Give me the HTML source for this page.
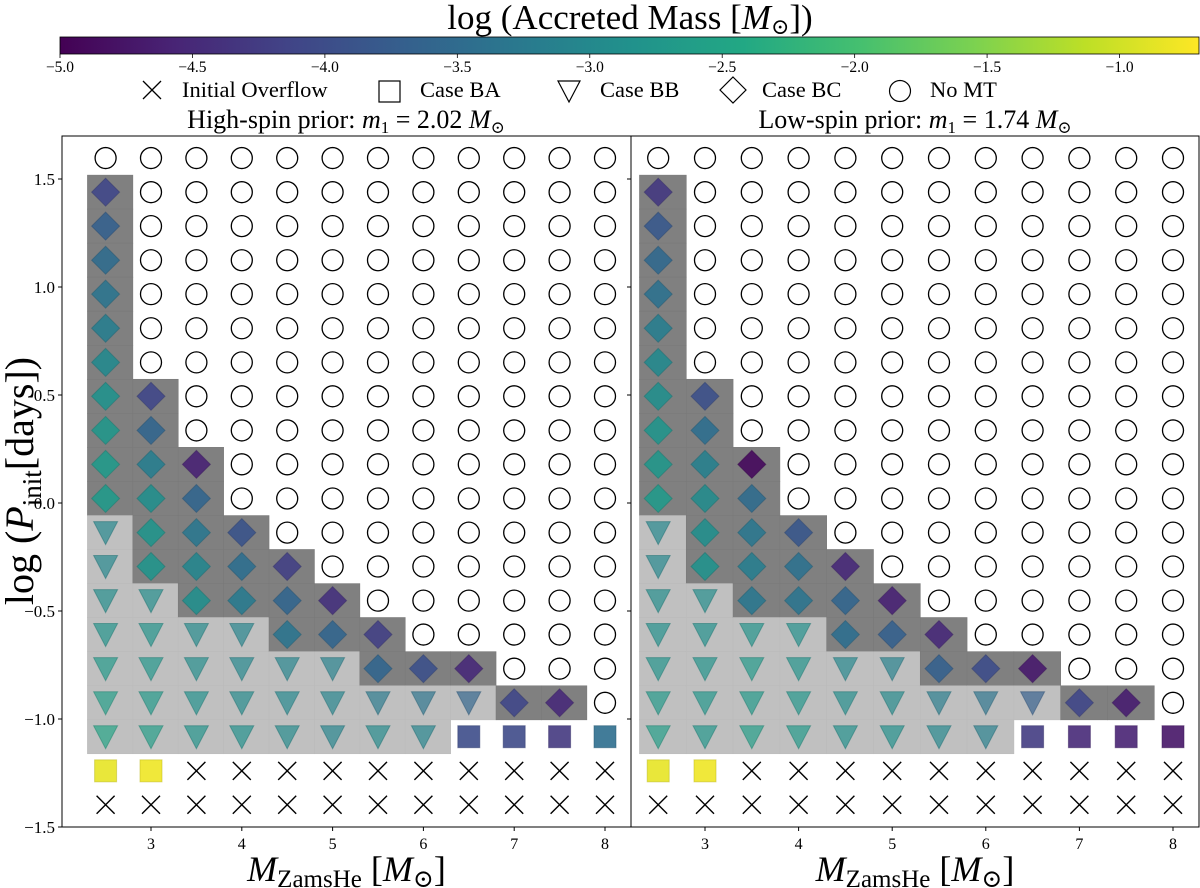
<!DOCTYPE html>
<html><head><meta charset="utf-8"><style>
body{margin:0;background:#fff}
svg{display:block;font-family:"Liberation Serif","DejaVu Serif",serif}
</style></head><body>
<svg id="chart" width="1200" height="888" viewBox="0 0 1200 888" xmlns="http://www.w3.org/2000/svg">
<defs>
<linearGradient id="vir" x1="0" x2="1" y1="0" y2="0">
<stop offset="0" stop-color="#440154"/><stop offset="0.1" stop-color="#482475"/><stop offset="0.2" stop-color="#414487"/><stop offset="0.3" stop-color="#355f8d"/><stop offset="0.4" stop-color="#2a788e"/><stop offset="0.5" stop-color="#21918c"/><stop offset="0.6" stop-color="#22a884"/><stop offset="0.7" stop-color="#44bf70"/><stop offset="0.8" stop-color="#7ad151"/><stop offset="0.9" stop-color="#bddf26"/><stop offset="1" stop-color="#fde725"/>
</linearGradient>
</defs>
<text x="630" y="29" font-size="35" text-anchor="middle">log (Accreted Mass [<tspan font-style="italic">M</tspan><tspan font-size="22" dy="5">⊙</tspan><tspan dy="-5">])</tspan></text>
<rect x="60" y="37" width="1139" height="17" fill="url(#vir)" stroke="#000" stroke-width="0.8"/>
<g id="cbticks"></g>
<g font-size="22.5">
<g><path d="M143 81 L161 99 M161 81 L143 99" stroke="#000" stroke-width="1.3"/><text x="182" y="97">Initial Overflow</text></g>
<g><rect x="379" y="81" width="21" height="21" fill="none" stroke="#000" stroke-width="1.2"/><text x="420" y="97">Case BA</text></g>
<g><path d="M558 81 L580 81 L569 102 Z" fill="none" stroke="#000" stroke-width="1.2"/><text x="600" y="97">Case BB</text></g>
<g><path d="M733 77 L746 90 L733 103 L720 90 Z" fill="none" stroke="#000" stroke-width="1.2"/><text x="762" y="97">Case BC</text></g>
<g><circle cx="900" cy="91" r="10.5" fill="none" stroke="#000" stroke-width="1.2"/><text x="930" y="97">No MT</text></g>
</g>
<text x="346" y="128" font-size="26" text-anchor="middle">High-spin prior: <tspan font-style="italic">m</tspan><tspan font-size="17" dy="5">1</tspan><tspan dy="-5"> = 2.02 </tspan><tspan font-style="italic">M</tspan><tspan font-size="17" dy="5">⊙</tspan></text>
<text x="915" y="128" font-size="26" text-anchor="middle">Low-spin prior: <tspan font-style="italic">m</tspan><tspan font-size="17" dy="5">1</tspan><tspan dy="-5"> = 1.74 </tspan><tspan font-style="italic">M</tspan><tspan font-size="17" dy="5">⊙</tspan></text>
<text transform="translate(33,481) rotate(-90)" font-size="40" text-anchor="middle">log (<tspan font-style="italic">P</tspan><tspan font-size="27" dy="8">init</tspan><tspan dy="-8">[days])</tspan></text>
<g id="panels"></g>
</svg>
<script>
// ---- data ----
const masses = [2.5,3,3.5,4,4.5,5,5.5,6,6.5,7,7.5,8];
const logP = [1.597,1.439,1.282,1.124,0.967,0.809,0.651,0.494,0.336,0.179,0.021,-0.137,-0.294,-0.452,-0.609,-0.767,-0.925,-1.082,-1.24,-1.397];
// counts of each case per column, from top: no MT, case BC, case BB, case BA, rest initial overflow
const nNoMT = [1,7,9,11,12,13,14,15,15,16,16,17];
const nBC   = [10,6,5,3,3,2,2,1,1,1,1,0];
const nBB   = [7,5,4,4,3,3,2,2,1,0,0,0];
const nBA   = [1,1,0,0,0,0,0,0,1,1,1,1];
// log accreted mass of coloured markers per column (top->bottom)
const leftVals = [
 [-4.1,-3.7,-3.5,-3.35,-3.2,-3.0,-2.85,-2.75,-2.7,-2.7, -3.0,-3.0,-2.9,-2.8,-2.7,-2.6,-2.5, -0.85],
 [-4.1,-3.6,-3.2,-2.9,-2.8,-2.8, -2.9,-2.8,-2.75,-2.7,-2.6, -0.8],
 [-4.6,-3.6,-3.3,-3.05,-2.9, -2.95,-2.9,-2.85,-2.8],
 [-3.9,-3.45,-3.25, -3.05,-3.0,-2.95,-2.85],
 [-4.2,-3.6,-3.35, -3.05,-3.0,-2.95],
 [-4.4,-3.6, -3.1,-3.05,-3.05],
 [-4.2,-3.6, -3.25,-2.95],
 [-3.95, -3.35,-3.05],
 [-4.5, -3.6, -4.0],
 [-4.1, -4.05],
 [-4.5, -4.3],
 [-3.45]
];
const rightVals = [
 [-4.3,-3.8,-3.55,-3.4,-3.2,-3.0,-2.9,-2.8,-2.75,-2.7, -3.0,-3.0,-2.9,-2.85,-2.8,-2.7,-2.6, -0.85],
 [-3.95,-3.45,-3.15,-2.95,-2.9,-2.85, -2.9,-2.85,-2.8,-2.75,-2.75, -0.8],
 [-4.9,-3.5,-3.3,-3.2,-3.3, -2.8,-2.7,-2.7,-2.6],
 [-3.85,-3.4,-3.35, -2.85,-2.8,-2.75,-2.7],
 [-4.5,-3.6,-3.45, -3.0,-2.9,-2.85],
 [-4.6,-3.7, -3.1,-2.95,-2.85],
 [-4.5,-3.7, -3.2,-3.0],
 [-4.0, -3.35,-3.15],
 [-4.7, -3.7, -4.25],
 [-4.1, -4.5],
 [-4.65, -4.6],
 [-4.75]
];
const cbTicks = [-5.0,-4.5,-4.0,-3.5,-3.0,-2.5,-2.0,-1.5,-1.0];
const yTicks = [1.5,1.0,0.5,0.0,-0.5,-1.0,-1.5];
const xTicks = [3,4,5,6,7,8];
const vmin=-5.0, vmax=-0.70;

// ---- helpers ----
const NS="http://www.w3.org/2000/svg";
function mk(tag,attrs,parent){const e=document.createElementNS(NS,tag);for(const k in attrs)e.setAttribute(k,attrs[k]);if(parent)parent.appendChild(e);return e;}
const stops=[[68,1,84],[72,36,117],[65,68,135],[53,95,141],[42,120,142],[33,145,140],[34,168,132],[68,191,112],[122,209,81],[189,223,38],[253,231,37]];
function vcol(v,s){let t=(v-vmin)/(vmax-vmin);t=Math.max(0,Math.min(1,t));const f=t*10,i=Math.min(9,Math.floor(f)),r=f-i;const a=stops[i],b=stops[i+1];
 return "rgb("+a.map((c,k)=>Math.round((c+(b[k]-c)*r)*s)).join(",")+")";}
const fmt=v=>(v<0?"\u2212":"")+Math.abs(v).toFixed(1);
function colTypes(ci){let s='o'.repeat(nNoMT[ci])+'d'.repeat(nBC[ci])+'t'.repeat(nBB[ci])+'s'.repeat(nBA[ci]);while(s.length<20)s+='x';return s;}

const cbx=v=>60+(v-vmin)/(vmax-vmin)*1139;
const cbg=document.getElementById('cbticks');
cbTicks.forEach(v=>{
 const l=mk('line',{x1:cbx(v),x2:cbx(v),y1:54,y2:58,stroke:'#000','stroke-width':0.8},cbg);
 
 
 const t=mk('text',{x:cbx(v),y:72,'font-size':15.5,'text-anchor':'middle'},cbg);t.textContent=fmt(v);
 
 
});

const yS=v=>503-216*v;
const panels=[
 {name:'left',L:62,R:631,x3:151,unit:90.8,vals:leftVals,yl:true},
 {name:'right',L:631,R:1199,x3:705,unit:93.6,vals:rightVals,yl:false}
];
const root=document.getElementById('panels');
panels.forEach(p=>{
 const xS=m=>p.x3+(m-3)*p.unit;
 const g=mk('g',{},root);
 
 
 const rowH=34.05;
 masses.forEach((m,ci)=>{
  const ty=colTypes(ci);
  for(let r=0;r<20;r++){
   const c=ty[r];
   if(c==='d'||c==='t'){
    const rc=mk('rect',{x:xS(m-0.2),y:yS(logP[r])-rowH/2,width:p.unit*0.5,height:rowH,fill:c==='d'?'#808080':'#c0c0c0',stroke:c==='d'?'#7a7a7a':'#bbbbbb','stroke-width':0.6},g);
    
    
   }
  }
 });
 masses.forEach((m,ci)=>{
  const ty=colTypes(ci);let k=0;
  const cx=xS(m);
  for(let r=0;r<20;r++){
   const c=ty[r];const cy=yS(logP[r]);let e;
   if(c==='o'){e=mk('circle',{cx:cx,cy:cy,r:10.5,fill:'none',stroke:'#000','stroke-width':1.3},g);
    }
   else if(c==='x'){e=mk('path',{d:`M${cx-9} ${cy-9}L${cx+9} ${cy+9}M${cx+9} ${cy-9}L${cx-9} ${cy+9}`,stroke:'#000','stroke-width':1.4},g);
    }
   else{
    let v=p.vals[ci][k++];if(v===undefined)v=-3;
    const col=vcol(v,1),ed=vcol(v,0.8);
    if(c==='d'){e=mk('path',{d:`M${cx} ${cy-14}L${cx+14} ${cy}L${cx} ${cy+14}L${cx-14} ${cy}Z`},g);}
    else if(c==='t'){e=mk('path',{d:`M${cx-12} ${cy-11}L${cx+12} ${cy-11}L${cx} ${cy+12}Z`},g);}
    else {e=mk('rect',{x:cx-11,y:cy-11,width:22,height:22},g);}
    e.setAttribute('fill',col);e.setAttribute('fill-opacity',c==='t'?0.68:0.9);e.setAttribute('stroke',ed);e.setAttribute('stroke-opacity',0.5);e.setAttribute('stroke-width',1);
   }
   
  }
 });
 const fr=mk('rect',{x:p.L,y:136,width:p.R-p.L,height:691,fill:'none',stroke:'#000','stroke-width':1},g);
 
 
 yTicks.forEach(v=>{
  const l=mk('line',{x1:p.L-4,x2:p.L,y1:yS(v),y2:yS(v),stroke:'#000','stroke-width':1},g);
  
  
  if(p.yl){const t=mk('text',{x:p.L-7,y:yS(v)+6,'font-size':17,'text-anchor':'end'},g);t.textContent=fmt(v);
   
   }
 });
 xTicks.forEach(v=>{
  const l=mk('line',{x1:xS(v),x2:xS(v),y1:827,y2:831,stroke:'#000','stroke-width':1},g);
  
  
  const t=mk('text',{x:xS(v),y:849,'font-size':16,'text-anchor':'middle'},g);t.textContent=String(v);
  
  
 });
 const xl=mk('text',{x:(p.L+p.R)/2,y:881,'font-size':36,'text-anchor':'middle'},g);
 xl.innerHTML='<tspan font-style="italic">M</tspan><tspan font-size="25" dy="6">ZamsHe</tspan><tspan dy="-6"> [</tspan><tspan font-style="italic">M</tspan><tspan font-size="25" dy="6">⊙</tspan><tspan dy="-6">]</tspan>';
 
 
});
</script>
</body></html>
